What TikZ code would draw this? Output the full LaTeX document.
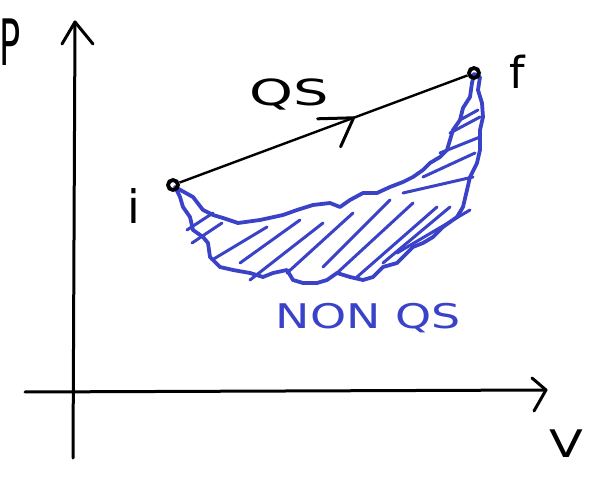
\documentclass[tikz,border=0pt]{standalone}
\usepackage{fontspec}
\setmainfont{DejaVu Sans}
\usetikzlibrary{calc}
\definecolor{ink}{RGB}{58,66,200}
\tikzset{
  axis/.style={line width=3pt,line cap=round,line join=round,black},
  blueline/.style={ink,line width=3.8pt,line cap=round,line join=round},
  hatch/.style={ink,line width=3pt,line cap=round},
  dotnode/.style={circle,draw=black,line width=3.8pt,inner sep=0pt,minimum size=10pt},
  lbl/.style={inner sep=0pt},
}
\begin{document}
\begin{tikzpicture}[x=1pt,y=-1pt]
\useasboundingbox (0,0) rectangle (590,484);
% axes
\coordinate (yb) at (73,458);
\coordinate (yt) at (75,22);
\coordinate (xl) at (25,392);
\coordinate (xr) at (546,390);
\draw[axis] (yb) -- (yt);
\draw[axis] ($(yt)+(-13,22)$) -- (yt) -- ($(yt)+(18,22)$);
\draw[axis] (xl) -- (xr);
\draw[axis] ($(xr)+(-14,-12)$) -- (xr) -- ($(xr)+(-12,21)$);
\node[lbl,font=\fontsize{64}{64}\selectfont,xscale=0.55] (P) at (10,42) {P};
\node[lbl,font=\fontsize{38}{38}\selectfont,xscale=1.3] (V) at (566,444) {V};
% region
\draw[blueline]
 (175,187) -- (193,197) -- (203,210) -- (213,215) -- (223,218) -- (238,223) -- (260,220) -- (283,215) -- (297,210) -- (313,205) -- (330,203) -- (340,207) -- (350,200) -- (363,193) -- (377,193) -- (390,187) -- (403,182) -- (413,177) -- (423,170) -- (430,163) -- (440,157) -- (447,150) -- (450,140) -- (453,130) -- (460,120) -- (463,108) -- (470,97) -- (472,83) -- (474,74)
 -- (480,77) -- (478,90) -- (482,103) -- (483,117) -- (480,130) -- (480,150) -- (477,163) -- (470,177) -- (467,190) -- (463,207) -- (457,217) -- (443,227) -- (433,237) -- (423,243) -- (413,247) -- (403,257) -- (397,263) -- (383,267) -- (373,277) -- (363,280) -- (350,277) -- (337,273) -- (327,280) -- (317,283) -- (303,283) -- (293,280) -- (287,270) -- (273,273) -- (263,277) -- (250,273) -- (233,270) -- (220,267) -- (210,257) -- (208,243) -- (203,237) -- (193,230) -- (190,217) -- (183,207) -- (180,197) -- (175,187);
% hatches
\foreach \a/\b/\c/\d in {187/230/213/213, 192/243/222/223, 212/260/267/227, 240/263/300/220, 250/280/323/223, 287/273/353/213, 323/267/390/200, 337/273/413/203, 357/277/437/207, 383/263/450/207, 397/253/470/210, 403/193/473/177, 423/177/475/153, 440/153/480/137, 450/133/480/117, 460/120/478/110}
  \draw[hatch] (\a,\b) -- (\c,\d);
% states
\node[dotnode] (i) at (173,185) {};
\node[dotnode] (f) at (474,73) {};
\draw[line width=2.4pt] (i) -- (f);
\coordinate (m) at ($(i)!0.6!(f)$);
\draw[line width=3pt,line cap=round,line join=round] ($(m)+(-36,1)$) -- (m) -- ($(m)+(-13,29)$);
\node[lbl,font=\fontsize{46}{46}\selectfont] (il) at (134,206) {i};
\node[lbl,font=\fontsize{44}{44}\selectfont] (fl) at (517,72) {f};
\node[lbl,font=\fontsize{36}{36}\selectfont,xscale=1.55] (qs) at (289,94) {QS};
\node[lbl,ink,font=\fontsize{34}{34}\selectfont,xscale=1.35] (nqs) at (368,318) {NON QS};
\end{tikzpicture}
\end{document}
